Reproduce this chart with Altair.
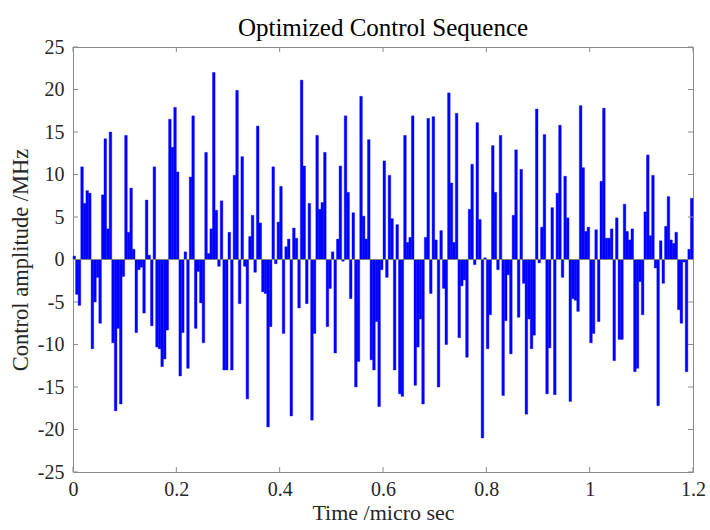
import altair as alt
import numpy as np
import pandas as pd

# Control amplitude (MHz) of each 5 ns time slice, 240 slices over 1.2 us
amplitude_mhz = [
    0.4, -4.1, -5.4, 10.9, 6.6, 8.1, 7.8, -10.5, -5.0, -2.1,
    -7.5, 7.6, 14.2, 3.6, 15.0, -9.8, -17.8, -8.1, -17.0, -2.0,
    14.6, 3.2, 8.4, 1.2, -8.6, -1.2, -0.9, -6.3, 7.0, 0.5,
    -7.8, 10.9, -10.3, -10.5, -12.6, -11.7, -8.3, 16.5, 13.2, 17.9,
    10.3, -13.7, -8.6, 0.9, -12.8, 9.7, 16.9, -8.1, -1.4, -5.1,
    -9.8, 12.6, 0.7, 3.6, 22.0, 5.8, -0.8, 6.9, -13.0, -13.0,
    3.2, -13.0, 9.9, 19.9, -5.2, 12.1, -0.8, -16.4, 2.7, 5.2,
    -1.5, 15.7, 4.3, -3.8, -4.0, -19.7, -7.9, 10.9, -0.5, 4.4,
    8.6, -8.7, 1.5, 2.4, -18.4, 3.7, 2.5, -5.7, 21.1, 11.0,
    -5.2, 6.6, -18.9, -8.7, 14.6, 5.9, 6.7, 12.6, -7.9, -3.4,
    0.9, -11.0, 2.4, 11.0, -0.2, 16.9, 7.9, -4.6, 5.5, -15.0,
    -12.0, 19.2, 5.1, 2.4, 14.1, -11.8, -13.0, -7.3, -17.3, -1.2,
    11.6, -2.1, 9.9, 4.8, -13.0, 4.1, -15.8, -16.1, 14.6, 2.0,
    2.6, 16.9, -14.8, -10.3, -7.0, -17.0, 2.6, 16.6, -4.0, 16.8,
    2.3, -15.0, 3.4, -3.4, -10.0, 19.6, 9.0, 2.0, 17.2, -9.2,
    -3.1, -2.4, -11.5, 5.9, 11.2, -0.6, 16.1, 4.7, -21.0, 0.2,
    -10.5, -6.5, 13.4, 7.9, -1.2, 14.6, -16.0, -7.2, -1.8, -11.1,
    5.2, 12.9, -6.8, 10.6, -2.8, -18.2, -7.0, -10.5, -8.9, 17.7,
    -0.4, 3.8, 14.7, -15.8, -10.4, 6.1, -15.9, 7.8, 15.8, -2.1,
    9.8, 4.9, -16.7, -4.6, -4.8, -6.1, 18.1, 10.8, 3.3, 3.8,
    -9.8, -8.7, 3.5, -7.3, 9.2, 17.8, 2.5, 2.5, 3.6, -11.9,
    4.9, -9.4, -9.4, 6.5, 3.3, 2.3, 3.6, -13.2, -12.8, -2.6,
    -6.5, 5.6, 12.3, 2.8, 9.9, -1.0, -17.2, 2.2, -2.8, 3.9,
    7.4, 2.3, 1.9, 3.2, -5.9, -7.5, -0.3, -13.2, 1.2, 7.2,
]
time_step_us = 0.005
x_ticks = [0, 0.2, 0.4, 0.6, 0.8, 1, 1.2]
y_ticks = [-25, -20, -15, -10, -5, 0, 5, 10, 15, 20, 25]

n = len(amplitude_mhz)
idx = np.arange(n)
bars = pd.DataFrame({
    "t0": idx * time_step_us,
    "t1": (idx + 1) * time_step_us,
    "amp": amplitude_mhz,
})

W, H = 620, 425
FONT = "Liberation Serif"
FRAME = "#8a8a8a"
TEXT = "#262626"
TICK_LEN = 5

x_scale = alt.Scale(domain=[0, 1.2], nice=False, zero=False)
y_scale = alt.Scale(domain=[-25, 25], nice=False, zero=False)

x_axis = alt.Axis(
    values=x_ticks, labelExpr="'' + datum.value", domain=False, ticks=False,
    grid=False, labelFont=FONT, labelFontSize=20, labelColor=TEXT,
    labelPadding=7, labelFlush=False, title="Time /micro sec",
    titleFont=FONT, titleFontSize=22, titleFontWeight="normal",
    titleColor=TEXT, titlePadding=3,
)
y_axis = alt.Axis(
    values=y_ticks, labelExpr="'' + datum.value", domain=False, ticks=False,
    grid=False, labelFont=FONT, labelFontSize=20, labelColor=TEXT,
    labelPadding=9, labelFlush=False, title="Control amplitude /MHz",
    titleFont=FONT, titleFontSize=22.5, titleFontWeight="normal",
    titleColor=TEXT, titlePadding=5,
)

bar_layer = alt.Chart(bars).mark_rect(
    color="#0000ff", stroke="#0000ff", strokeWidth=0.4
).encode(
    x=alt.X("t0:Q", scale=x_scale, axis=x_axis),
    x2="t1:Q",
    y=alt.Y("amp:Q", scale=y_scale, axis=y_axis),
    y2=alt.datum(0),
)

baseline = alt.Chart(pd.DataFrame({"y": [0]})).mark_rule(
    color="#808080", strokeWidth=1
).encode(y=alt.Y("y:Q", scale=y_scale, axis=y_axis))

xt = pd.DataFrame({"v": x_ticks})
yt = pd.DataFrame({"v": y_ticks})
tick_style = dict(color=FRAME, strokeWidth=1)

x_ticks_bottom = alt.Chart(xt).mark_rule(**tick_style).encode(
    x=alt.X("v:Q", scale=x_scale, axis=x_axis),
    y=alt.value(H), y2=alt.value(H - TICK_LEN),
)
x_ticks_top = alt.Chart(xt).mark_rule(**tick_style).encode(
    x=alt.X("v:Q", scale=x_scale, axis=x_axis),
    y=alt.value(0), y2=alt.value(TICK_LEN),
)
y_ticks_left = alt.Chart(yt).mark_rule(**tick_style).encode(
    y=alt.Y("v:Q", scale=y_scale, axis=y_axis),
    x=alt.value(0), x2=alt.value(TICK_LEN),
)
y_ticks_right = alt.Chart(yt).mark_rule(**tick_style).encode(
    y=alt.Y("v:Q", scale=y_scale, axis=y_axis),
    x=alt.value(W - TICK_LEN), x2=alt.value(W),
)

chart = alt.layer(
    bar_layer, baseline, x_ticks_bottom, x_ticks_top, y_ticks_left, y_ticks_right
).properties(
    width=W, height=H,
    title=alt.TitleParams(
        "Optimized Control Sequence", font=FONT, fontSize=25,
        fontWeight="normal", color="black", offset=-4, anchor="middle",
    ),
    autosize=alt.AutoSizeParams(type="none"),
    padding={"left": 73, "top": 47, "right": 17, "bottom": 58},
    background="white",
).configure_view(stroke=FRAME, strokeWidth=1)

chart.save("out.html", embed_options={"renderer": "svg", "actions": False})
